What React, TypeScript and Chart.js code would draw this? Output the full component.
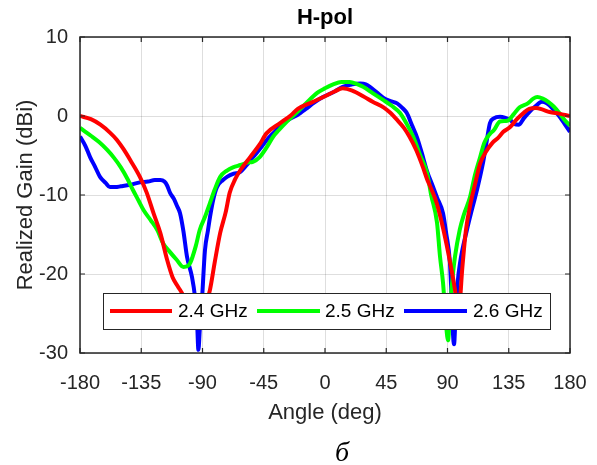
import React, { useEffect, useRef } from "react";
import { Chart, registerables } from "chart.js";

Chart.register(...registerables);

const chartTitle = "H-pol";
const xAxisTitle = "Angle (deg)";
const yAxisTitle = "Realized Gain (dBi)";
const caption = "б";
const seriesLabels = ["2.4 GHz", "2.5 GHz", "2.6 GHz"];
const seriesColors = ["#FF0000", "#00FF00", "#0000FF"];
const xTickValues = [-180, -135, -90, -45, 0, 45, 90, 135, 180];
const yTickValues = [-30, -20, -10, 0, 10];

// [angle (deg), gain (dBi)]
const gain24: [number, number][] = [
  [-180, 0], [-172, -0.4], [-165, -1.1], [-158, -2.1], [-153, -3.0], [-148, -4.2],
  [-143, -5.6], [-136, -7.7], [-131, -9.7], [-126, -12.3], [-121, -14.8], [-116, -18.2],
  [-112, -20.4], [-108, -21.6], [-104, -22.8], [-100, -25], [-96, -26.2], [-91, -25.5],
  [-87, -23.5], [-84.5, -22.0], [-81, -18.5], [-77, -14.8], [-73, -12.2], [-70, -9.7],
  [-66, -8.0], [-62, -6.8], [-55, -5.2], [-48, -3.6], [-43, -2.2], [-33, -0.9],
  [-25, 0.1], [-20, 0.9], [-10, 1.7], [0, 2.5], [7, 3.1], [13, 3.5], [20, 3.2],
  [28, 2.5], [35, 1.8], [43, 1.1], [48, 0.4], [53, -0.5], [58, -1.5], [62, -2.6],
  [67, -4.3], [72, -6.5], [75, -8.0], [78, -9.2], [82, -11.0], [87, -14.4], [92, -18.6],
  [95.5, -22.0], [98, -25], [101, -19], [103.5, -14.5], [107, -11], [110, -8.8],
  [114, -6.0], [118, -4.6], [123, -3.4], [127, -2.8], [131, -2.0], [136, -1.4],
  [141, -0.4], [146, 0.4], [150, 0.9], [155, 1.0], [160, 0.8], [165, 0.5], [172, 0.3],
  [180, 0],
];

const gain25: [number, number][] = [
  [-180, -1.5], [-176, -2.0], [-172, -2.5], [-166, -3.3], [-160, -4.3], [-155, -5.3],
  [-150, -6.5], [-145, -8.0], [-141, -9.4], [-137, -10.7], [-133, -12.0], [-128, -13.2],
  [-123, -14.5], [-119, -16.1], [-114, -17.2], [-109, -18.2], [-104, -19.1], [-101, -19.0],
  [-99, -18.6], [-95, -16.5], [-92, -14.4], [-88, -12.7], [-84.5, -11.0], [-81, -9.3],
  [-77, -7.7], [-72, -6.9], [-67.6, -6.5], [-62, -6.2], [-57, -5.9], [-53, -5.8],
  [-48, -5.2], [-43, -4.0], [-38, -2.6], [-34, -1.8], [-28, -0.7], [-21, 0.4],
  [-14, 1.6], [-6, 2.9], [0, 3.5], [6, 4.0], [12, 4.3], [18, 4.3], [24, 4.0],
  [28, 3.7], [35, 2.9], [43, 2.0], [49, 1.3], [55, 0.4], [60, -1.0], [65, -2.7],
  [70, -5.0], [75, -7.2], [78, -10.0], [82.3, -13.5], [84.5, -17.8], [86.7, -21.1],
  [89, -26.5], [90.4, -28.4], [92, -24], [94, -20], [95.5, -17.8], [99, -14.4],
  [102, -12.5], [106.5, -10.3], [110, -7.6], [114, -5.2], [117, -3.4], [121, -2.3],
  [124, -1.8], [128.6, -0.7], [134, -0.6], [139, 0.3], [143, 1.1], [149, 1.6],
  [153, 2.2], [156, 2.4], [160, 2.2], [164, 1.8], [168, 1.2], [172, 0.4], [176, -0.5],
  [180, -1.2],
];

const gain26: [number, number][] = [
  [-180, -2.6], [-176, -3.8], [-172.6, -5.2], [-169, -6.4], [-165.3, -7.7], [-161, -8.5],
  [-158, -9.0], [-154, -9.0], [-150, -8.9], [-143, -8.7], [-136, -8.4], [-130, -8.3],
  [-125, -8.1], [-121, -8.1], [-118, -8.3], [-116, -8.8], [-113.9, -9.7], [-111, -10.5],
  [-108.7, -11.4], [-106.5, -12.3], [-104, -14.6], [-101.4, -17.8], [-97.7, -20.4],
  [-95.5, -22.9], [-94, -26], [-93, -29.6], [-92, -27], [-90.4, -23.3], [-88.2, -17],
  [-86, -14.5], [-84.5, -12.8], [-82, -10.5], [-79.4, -9.0], [-75, -8.1], [-72, -7.7],
  [-67, -7.3], [-62.4, -7.1], [-58, -6.3], [-52.8, -5.2], [-47, -4.0], [-42.6, -3.0],
  [-37, -2.0], [-30.8, -0.9], [-25, -0.3], [-20.6, 0.1], [-14, 0.9], [-8, 1.7],
  [-1.5, 2.4], [6, 3.0], [13, 3.7], [20, 4.0], [26, 4.1], [30, 4.0], [33, 3.7],
  [38, 3.0], [43, 2.3], [48, 1.9], [53, 1.6], [57, 1.0], [60, 0.4], [64, -1.2],
  [67.6, -2.7], [71, -4.6], [75, -7.0], [79, -8.8], [82.3, -10.3], [86.7, -12.3],
  [89, -14.8], [91.8, -18.6], [93, -23], [94, -27.5], [94.8, -28.9], [96, -25],
  [97.5, -21], [99.2, -18.6], [104.3, -14.4], [108, -11.8], [111.6, -9.4], [116, -6.0],
  [118.5, -3.5], [121.2, -0.9], [124, -0.3], [128.6, -0.1], [132, -0.2], [136, -0.5],
  [139, -1.0], [142.5, -1.1], [146, -0.3], [150.6, 0.6], [155, 1.3], [159.4, 1.8],
  [163, 1.6], [168, 0.8], [172, 0.0], [176, -1.0], [180, -2.0],
];

const allSeries = [gain24, gain25, gain26];

const SANS = '"Liberation Sans", Arial, sans-serif';
const INK = "#262626";

const decorPlugin = {
  id: "decor",
  afterDatasetsDraw(chart: any) {
    const ctx = chart.ctx;
    const bx = 103, by = 293, bw = 447, bh = 36;
    ctx.save();
    ctx.fillStyle = "#FFFFFF";
    ctx.fillRect(bx, by, bw, bh);
    ctx.strokeStyle = INK;
    ctx.lineWidth = 1;
    ctx.strokeRect(bx + 0.5, by + 0.5, bw, bh);
    const items = [
      { x0: 110, x1: 172, tx: 178 },
      { x0: 257, x1: 320, tx: 325 },
      { x0: 404, x1: 467, tx: 473 },
    ];
    const ly = by + bh / 2;
    items.forEach((it, i) => {
      ctx.strokeStyle = seriesColors[i];
      ctx.lineWidth = 4;
      ctx.beginPath();
      ctx.moveTo(it.x0, ly);
      ctx.lineTo(it.x1, ly);
      ctx.stroke();
      ctx.fillStyle = "#000000";
      ctx.font = `19px ${SANS}`;
      ctx.textAlign = "left";
      ctx.textBaseline = "middle";
      ctx.fillText(seriesLabels[i], it.tx, ly + 1);
    });
    ctx.restore();
  },
  afterDraw(chart: any) {
    const ctx = chart.ctx;
    const { left, right, top, bottom } = chart.chartArea;
    const xs = chart.scales.x;
    const ys = chart.scales.y;
    ctx.save();
    ctx.strokeStyle = INK;
    ctx.lineWidth = 1.5;
    ctx.strokeRect(left, top, right - left, bottom - top);
    const tl = 5;
    ctx.lineWidth = 1.2;
    ctx.beginPath();
    xTickValues.forEach((v) => {
      const px = xs.getPixelForValue(v);
      ctx.moveTo(px, bottom);
      ctx.lineTo(px, bottom - tl);
      ctx.moveTo(px, top);
      ctx.lineTo(px, top + tl);
    });
    yTickValues.forEach((v) => {
      const py = ys.getPixelForValue(v);
      ctx.moveTo(left, py);
      ctx.lineTo(left + tl, py);
      ctx.moveTo(right, py);
      ctx.lineTo(right - tl, py);
    });
    ctx.stroke();
    const cx = (left + right) / 2;
    ctx.fillStyle = "#000000";
    ctx.font = `bold 22px ${SANS}`;
    ctx.textAlign = "center";
    ctx.textBaseline = "alphabetic";
    ctx.fillText(chartTitle, cx, 24);
    ctx.fillStyle = INK;
    ctx.font = `22px ${SANS}`;
    ctx.fillText(xAxisTitle, cx, 419);
    ctx.save();
    ctx.translate(32, (top + bottom) / 2);
    ctx.rotate(-Math.PI / 2);
    ctx.fillText(yAxisTitle, 0, 0);
    ctx.restore();
    ctx.fillStyle = "#000000";
    ctx.font = `italic 28px "Liberation Serif", "DejaVu Serif", serif`;
    ctx.fillText(caption, 342, 461);
    ctx.restore();
  },
};

export default function App() {
  const ref = useRef<HTMLCanvasElement | null>(null);
  useEffect(() => {
    if (!ref.current) return;
    const chart = new Chart(ref.current, {
      type: "line",
      data: {
        datasets: allSeries.map((s, i) => ({
          label: seriesLabels[i],
          data: s.map(([x, y]) => ({ x, y })),
          borderColor: seriesColors[i],
          backgroundColor: seriesColors[i],
          borderWidth: 4,
          pointRadius: 0,
          cubicInterpolationMode: "monotone" as const,
          fill: false,
        })),
      },
      options: {
        responsive: false,
        animation: false,
        events: [],
        layout: { padding: { left: 0, right: 27, top: 37, bottom: 0 } },
        plugins: {
          legend: { display: false },
          title: { display: false },
          tooltip: { enabled: false },
        },
        scales: {
          x: {
            type: "linear",
            min: -180,
            max: 180,
            afterFit: (s: any) => {
              s.height = 112;
              s.paddingLeft = 0;
              s.paddingRight = 0;
            },
            afterBuildTicks: (s: any) => { s.ticks = xTickValues.map((v) => ({ value: v })); },
            ticks: {
              autoSkip: false,
              maxRotation: 0,
              padding: 18,
              color: INK,
              font: { family: SANS, size: 20 },
            },
            grid: { color: "rgba(0,0,0,0.13)", lineWidth: 1, drawTicks: false },
            border: { display: false },
          },
          y: {
            min: -30,
            max: 10,
            afterFit: (s: any) => {
              s.width = 80;
              s.paddingTop = 0;
              s.paddingBottom = 0;
            },
            afterBuildTicks: (s: any) => { s.ticks = yTickValues.map((v) => ({ value: v })); },
            ticks: {
              padding: 12,
              color: INK,
              font: { family: SANS, size: 20 },
            },
            grid: { color: "rgba(0,0,0,0.13)", lineWidth: 1, drawTicks: false },
            border: { display: false },
          },
        },
      },
      plugins: [decorPlugin],
    });
    return () => chart.destroy();
  }, []);
  return (
    <div style={{ position: "fixed", left: 0, top: 0, width: 597, height: 465, background: "#fff" }}>
      <canvas ref={ref} width={597} height={465} style={{ display: "block", width: 597, height: 465 }} />
    </div>
  );
}
